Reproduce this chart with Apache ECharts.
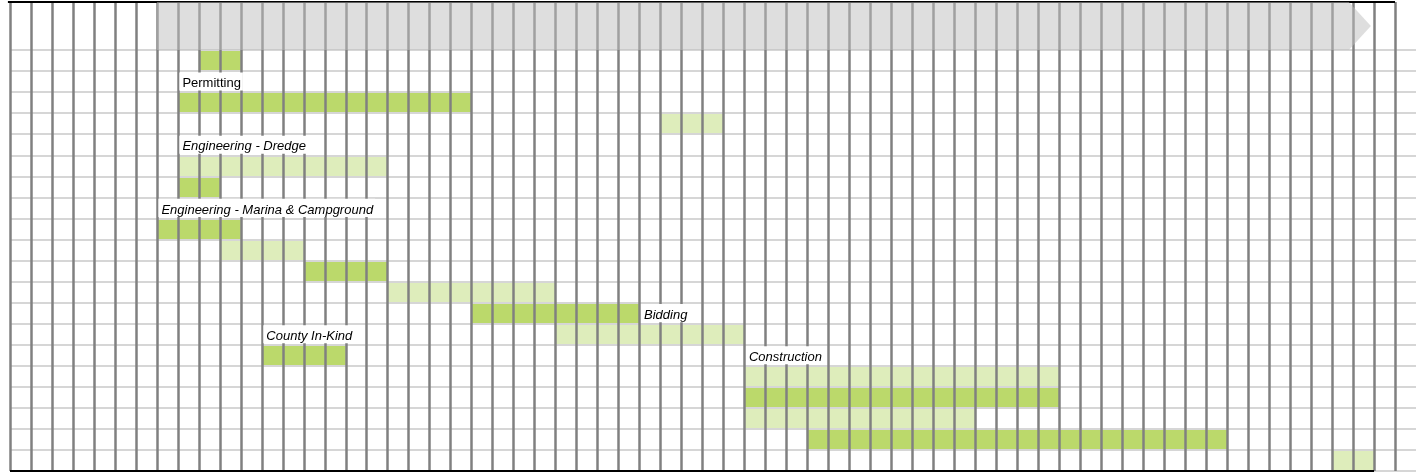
<!DOCTYPE html>
<html>
<head>
<meta charset="utf-8">
<script src="https://cdn.jsdelivr.net/npm/echarts@6/dist/echarts.min.js"></script>
<style>
  html, body { margin: 0; padding: 0; background: #ffffff; }
  #chart { width: 1416px; height: 472px; }
</style>
</head>
<body>
<div id="chart"></div>
<script>
// Schedule grid: 67 week columns, 20 task rows.
const columnCount = 67;
const rowCount = 20;

// Task bars: row, first column, last column (inclusive), tone
const barRow   = [0, 2, 3, 5, 6, 8, 9, 10, 11, 12, 13, 14, 15, 16, 17, 18, 19];
const barStart = [9, 8, 31, 8, 8, 7, 10, 14, 18, 22, 26, 12, 35, 35, 35, 38, 63];
const barEnd   = [10, 21, 33, 17, 9, 10, 13, 17, 25, 29, 34, 15, 49, 49, 45, 57, 64];
const barTone  = ['dark', 'dark', 'light', 'light', 'dark', 'dark', 'light', 'dark', 'light',
                  'dark', 'light', 'dark', 'light', 'dark', 'light', 'dark', 'light'];

// Phase labels
const labelText   = ['Permitting', 'Engineering - Dredge', 'Engineering - Marina & Campground',
                     'Bidding', 'County In-Kind', 'Construction'];
const labelRow    = [1, 4, 7, 12, 13, 14];
const labelCol    = [8, 8, 7, 30, 12, 35];
const labelItalic = [false, true, true, true, true, true];

// Timeline arrow across the header (in column units)
const timelineStart = 7;
const timelineBodyEnd = 63.8;
const timelineTip = 64.85;

// Table borders (in column units)
const topBorder = [-0.1, 66];
const bottomBorder = [0, 65];

const toneColor = { dark: '#bbd96b', light: '#deedbb' };
const FONT_FAMILY = '"Liberation Sans", Arial, sans-serif';

const measureCtx = document.createElement('canvas').getContext('2d');
function fontFor(italic) { return (italic ? 'italic ' : '') + '13px ' + FONT_FAMILY; }
function textWidth(t, italic) {
  measureCtx.font = fontFor(italic);
  return measureCtx.measureText(t).width;
}

const barData = barRow.map((r, i) => [barStart[i], barEnd[i], r, i]);
const labelData = labelRow.map((r, i) => [labelCol[i], r, i]);

const chart = echarts.init(document.getElementById('chart'), null, { renderer: 'canvas' });

const valueAxisBase = {
  type: 'value',
  axisLine: { show: false },
  axisTick: { show: false },
  axisLabel: { show: false }
};

const option = {
  animation: false,
  backgroundColor: '#ffffff',
  grid: [
    { left: 10, top: 2, width: 1407, height: 48 },
    { left: 10, top: 50, width: 1407, height: 421 }
  ],
  xAxis: [0, 1].map(g => Object.assign({}, valueAxisBase, {
    gridIndex: g, min: 0, max: columnCount, interval: 1, z: 4,
    splitLine: { show: true, showMaxLine: false, lineStyle: { color: '#808080', width: 2.5 } }
  })),
  yAxis: [
    Object.assign({}, valueAxisBase, { gridIndex: 0, min: 0, max: 1, splitLine: { show: false } }),
    Object.assign({}, valueAxisBase, {
      gridIndex: 1, min: 0, max: rowCount, interval: 1, inverse: true, z: 3,
      splitLine: { show: true, lineStyle: { color: '#d6d6d6', width: 2 } }
    })
  ],
  series: [
    {
      // task bars, painted under the grid lines
      type: 'custom', xAxisIndex: 1, yAxisIndex: 1, z: 1,
      data: barData,
      renderItem(params, api) {
        const i = api.value(3);
        const p0 = api.coord([api.value(0), api.value(2)]);
        const p1 = api.coord([api.value(1) + 1, api.value(2) + 1]);
        return {
          type: 'rect',
          shape: { x: p0[0], y: p0[1], width: p1[0] - p0[0], height: p1[1] - p0[1] },
          style: { fill: toneColor[barTone[i]] }
        };
      }
    },
    {
      // phase labels on white boxes
      type: 'custom', xAxisIndex: 1, yAxisIndex: 1, z: 6,
      data: labelData,
      renderItem(params, api) {
        const i = api.value(2);
        const p0 = api.coord([api.value(0), api.value(1)]);
        const p1 = api.coord([api.value(0), api.value(1) + 1]);
        const w = textWidth(labelText[i], labelItalic[i]);
        return {
          type: 'group',
          children: [
            {
              type: 'rect',
              shape: { x: p0[0] + 1.5, y: p0[1] + 1.5, width: w + 5, height: p1[1] - p0[1] - 3 },
              style: { fill: '#ffffff' }
            },
            {
              type: 'text',
              style: {
                x: p0[0] + 4.5, y: p1[1] - 8.5,
                text: labelText[i], font: fontFor(labelItalic[i]),
                fill: '#000000', align: 'left', verticalAlign: 'middle'
              }
            }
          ]
        };
      }
    },
    {
      // top border of the table
      type: 'custom', xAxisIndex: 0, yAxisIndex: 0, z: 5,
      data: [topBorder],
      renderItem(params, api) {
        const a = api.coord([api.value(0), 1]);
        const b = api.coord([api.value(1), 1]);
        return { type: 'line', shape: { x1: a[0], y1: a[1], x2: b[0], y2: b[1] },
                 style: { stroke: '#000000', lineWidth: 2 } };
      }
    },
    {
      // bottom border of the table
      type: 'custom', xAxisIndex: 1, yAxisIndex: 1, z: 5,
      data: [bottomBorder],
      renderItem(params, api) {
        const a = api.coord([api.value(0), rowCount]);
        const b = api.coord([api.value(1), rowCount]);
        return { type: 'line', shape: { x1: a[0], y1: a[1], x2: b[0], y2: b[1] },
                 style: { stroke: '#000000', lineWidth: 2 } };
      }
    },
    {
      // timeline arrow in the header
      type: 'custom', xAxisIndex: 0, yAxisIndex: 0, z: 7,
      data: [[timelineStart, timelineBodyEnd, timelineTip]],
      renderItem(params, api) {
        const s = api.value(0), e = api.value(1), t = api.value(2);
        const pts = [[s, 1], [e, 1], [t, 0.5], [e, 0], [s, 0]].map(p => api.coord(p));
        return { type: 'polygon', shape: { points: pts },
                 style: { fill: 'rgba(190,190,190,0.51)' } };
      }
    }
  ]
};

chart.setOption(option);
</script>
</body>
</html>
